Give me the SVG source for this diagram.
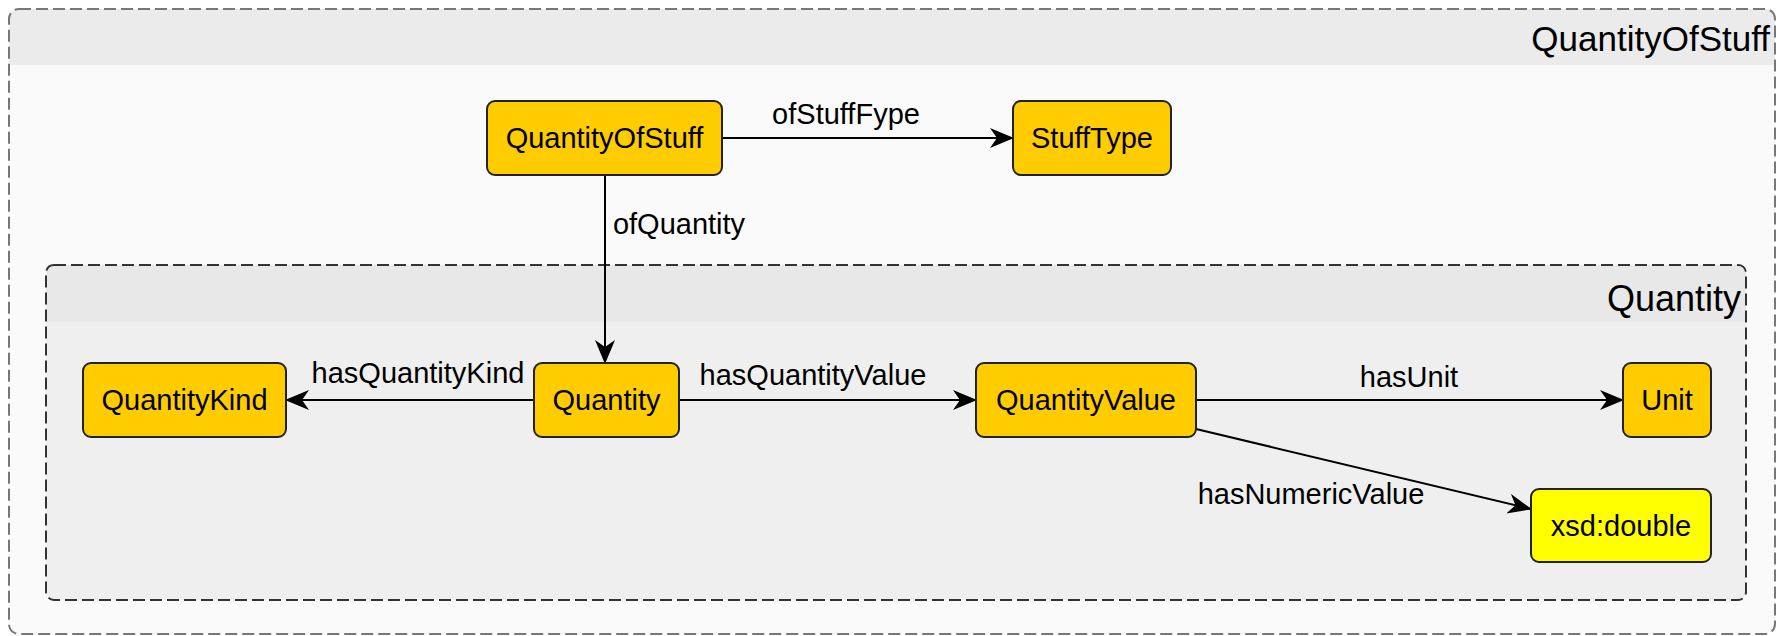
<svg xmlns="http://www.w3.org/2000/svg" width="1792" height="636" viewBox="0 0 1792 636">
<style>
.node rect{fill:#ffcc00;stroke:#222;stroke-width:2}
.node.lit rect{fill:#ffff00}
text{font-family:"Liberation Sans",Arial,sans-serif;fill:#000}
.nt{font-size:29px;text-anchor:middle}
.el{font-size:29px;text-anchor:middle}
.title{font-size:35px;text-anchor:end}
.edge{stroke:#000;stroke-width:2;fill:none;marker-end:url(#arr)}
</style>
<defs>
<marker id="arr" viewBox="0 0 24 20" refX="23" refY="10" markerWidth="24" markerHeight="20" markerUnits="userSpaceOnUse" orient="auto">
<path d="M0,0 L24,10 L0,20 L7,10 Z" fill="#000"/>
</marker>
</defs>
<g id="group-QuantityOfStuff">
<rect x="9" y="9" width="1766" height="625" rx="10" fill="#fafafa"/>
<path d="M9,65 V19 Q9,9 19,9 H1765 Q1775,9 1775,19 V65 Z" fill="#ebebeb"/>
<rect x="9" y="9" width="1766" height="625" rx="10" fill="none" stroke="#777" stroke-width="2" stroke-dasharray="12,5"/>
<text class="title" x="1770" y="51">QuantityOfStuff</text>
</g>
<g id="group-Quantity">
<rect x="46" y="265" width="1700" height="335" rx="8" fill="#efefef"/>
<path d="M46,322 V273 Q46,265 54,265 H1738 Q1746,265 1746,273 V322 Z" fill="#e8e8e8"/>
<rect x="46" y="265" width="1700" height="335" rx="8" fill="none" stroke="#333" stroke-width="2" stroke-dasharray="12,5"/>
<text class="title" x="1741" y="311" style="font-size:36px">Quantity</text>
</g>
<g id="connectors">
<line class="edge" x1="722" y1="138" x2="1013" y2="138"/>
<text class="el" x="846" y="124">ofStuffFype</text>
<line class="edge" x1="605" y1="175" x2="605" y2="363"/>
<text class="el" x="679" y="234">ofQuantity</text>
<line class="edge" x1="534" y1="400" x2="286" y2="400"/>
<text class="el" x="418" y="383">hasQuantityKind</text>
<line class="edge" x1="679" y1="400" x2="976" y2="400"/>
<text class="el" x="813" y="385">hasQuantityValue</text>
<line class="edge" x1="1196" y1="400" x2="1623" y2="400"/>
<text class="el" x="1409" y="387">hasUnit</text>
<line class="edge" x1="1196" y1="429" x2="1531" y2="509"/>
<text class="el" x="1311" y="504">hasNumericValue</text>
</g>
<g id="node-QuantityOfStuff" class="node"><rect x="487" y="101" width="235" height="74" rx="8"/><text class="nt" x="604.5" y="148">QuantityOfStuff</text></g>
<g id="node-StuffType" class="node"><rect x="1013" y="101" width="158" height="74" rx="8"/><text class="nt" x="1092" y="148">StuffType</text></g>
<g id="node-QuantityKind" class="node"><rect x="83" y="363" width="203" height="74" rx="8"/><text class="nt" x="184.5" y="410">QuantityKind</text></g>
<g id="node-Quantity" class="node"><rect x="534" y="363" width="145" height="74" rx="8"/><text class="nt" x="606.5" y="410">Quantity</text></g>
<g id="node-QuantityValue" class="node"><rect x="976" y="363" width="220" height="74" rx="8"/><text class="nt" x="1086" y="410">QuantityValue</text></g>
<g id="node-Unit" class="node"><rect x="1623" y="363" width="88" height="74" rx="8"/><text class="nt" x="1667" y="410">Unit</text></g>
<g id="node-xsd-double" class="node lit"><rect x="1531" y="489" width="180" height="73" rx="8"/><text class="nt" x="1621" y="536">xsd:double</text></g>
</svg>
